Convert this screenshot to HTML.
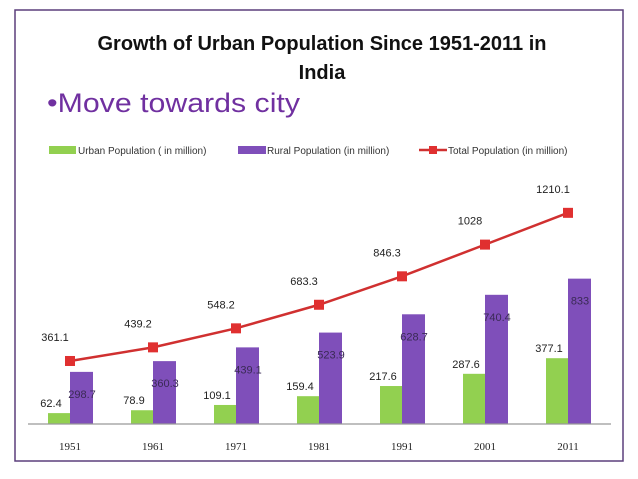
<!DOCTYPE html>
<html><head><meta charset="utf-8"><style>
body{margin:0;background:#fff;width:638px;height:479px;overflow:hidden;font-family:"Liberation Sans",sans-serif}
svg{position:absolute;left:0;top:0}
</style></head><body>
<svg width="638" height="479">
<rect x="15" y="10" width="608" height="451" fill="#fff" stroke="#5b3f7c" stroke-width="1.5"/>
<text x="322" y="50" text-anchor="middle" font-size="20" font-weight="bold" fill="#111">Growth of Urban Population Since 1951-2011 in</text>
<text x="322" y="79" text-anchor="middle" font-size="20" font-weight="bold" fill="#111">India</text>
<text x="47" y="112" font-size="27" textLength="253" lengthAdjust="spacingAndGlyphs" fill="#7030a0">•Move towards city</text>
<g font-size="10" fill="#333">
<rect x="49" y="146" width="27" height="8" fill="#92d050"/>
<text x="78" y="154">Urban Population ( in million)</text>
<rect x="238" y="146" width="28" height="8" fill="#7f4fba"/>
<text x="267" y="154">Rural Population (in million)</text>
<line x1="419" y1="150" x2="447" y2="150" stroke="#d03030" stroke-width="2.5"/>
<rect x="429" y="146" width="8" height="8" fill="#e03030"/>
<text x="448" y="154">Total Population (in million)</text>
</g>
<g id="plot"></g>
</svg>
<script>
const categories=["1951","1961","1971","1981","1991","2001","2011"];
const urban=[62.4,78.9,109.1,159.4,217.6,287.6,377.1];
const rural=[298.7,360.3,439.1,523.9,628.7,740.4,833];
const total=[361.1,439.2,548.2,683.3,846.3,1028,1210.1];
const NS="http://www.w3.org/2000/svg";
const g=document.getElementById('plot');
const base=424, k=0.1745, x0=70, step=83;
const X=i=>x0+i*step, Y=v=>base-v*k;
function el(t,a){const e=document.createElementNS(NS,t);for(const n in a)e.setAttribute(n,a[n]);g.appendChild(e);return e;}
categories.forEach((c,i)=>{
 const u=el('rect',{x:X(i)-22,y:Y(urban[i]),width:22,height:base-Y(urban[i]),fill:'#92d050'});
 
 
 const r=el('rect',{x:X(i),y:Y(rural[i]),width:23,height:base-Y(rural[i]),fill:'#7f4fba'});
 
 
});
const ax=el('line',{x1:28,y1:base,x2:611,y2:base,stroke:'#999','stroke-width':1.2});


const pl=el('polyline',{points:total.map((v,i)=>X(i)+','+Y(v)).join(' '),fill:'none',stroke:'#d03030','stroke-width':2.5});


categories.forEach((c,i)=>{
 const m=el('rect',{x:X(i)-5,y:Y(total[i])-5,width:10,height:10,fill:'#e03030'});
 
 
 const t=el('text',{x:X(i)-15,y:Y(total[i])-20,'text-anchor':'middle','font-size':11,fill:'#222'});t.textContent=total[i];
 
 
 const tu=el('text',{x:X(i)-19,y:Y(urban[i])-6,'text-anchor':'middle','font-size':11,fill:'#222'});tu.textContent=urban[i];
 
 
 const tr=el('text',{x:X(i)+12,y:Y(rural[i])+26,'text-anchor':'middle','font-size':11,fill:'#3a2a55'});tr.textContent=rural[i];
 
 
 const xl=el('text',{x:X(i),y:base+26,'text-anchor':'middle','font-size':11,fill:'#222','font-family':'Liberation Serif, serif'});xl.textContent=c;
 
 
});
</script>
</body></html>
